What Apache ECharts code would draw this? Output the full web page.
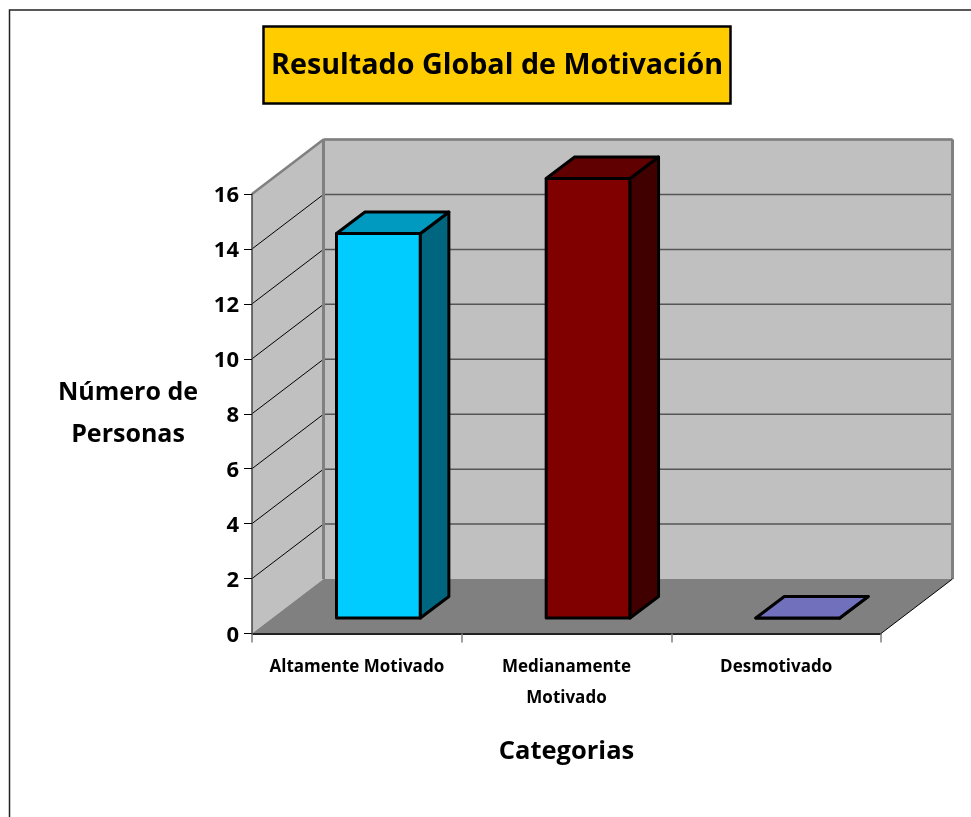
<!DOCTYPE html>
<html>
<head>
<meta charset="utf-8">
<style>
html, body { margin: 0; padding: 0; background: #fff; }
#chart { width: 971px; height: 817px; }
</style>
<script src="https://cdn.jsdelivr.net/npm/echarts@6/dist/echarts.min.js"></script>
</head>
<body>
<div id="chart"></div>
<script>
const categories = ['Altamente Motivado', 'Medianamente\nMotivado', 'Desmotivado'];
const values = [14, 16, 0];
const frontColors = ['#00ccff', '#800000', '#7777c4'];
const topColors = ['#0099bf', '#600000', '#7070bc'];
const sideColors = ['#006680', '#400000', '#3c3c62'];
const yTicks = { min: 0, max: 16, interval: 2 };

const FONT = '"Open Sans", "Noto Sans", sans-serif';

// Oblique projection of the box: how far the back plane sits from the front plane
const DEPTH_X = 71.5;
const DEPTH_Y = -54.5;
// Bars sit partway into the floor and have their own, shorter depth
const BAR_SHIFT_X = 21.6;
const BAR_SHIFT_Y = -15.5;
const BAR_DEPTH_X = 28.5;
const BAR_DEPTH_Y = -21.5;
const BAR_WIDTH_RATIO = 0.4;

function poly(points, fill, stroke, lineWidth) {
  return {
    type: 'polygon',
    shape: { points },
    style: { fill, stroke: stroke || 'none', lineWidth: lineWidth || 0, lineJoin: 'round' }
  };
}

function seg(x1, y1, x2, y2, stroke, lineWidth) {
  return {
    type: 'line',
    shape: { x1, y1, x2, y2 },
    style: { stroke, lineWidth }
  };
}

// Back wall, side wall, floor and the gridlines that run across them
function renderBox(params, api) {
  const band = api.size([1, 0])[0];
  const origin = api.coord([0, yTicks.min]);
  const left = origin[0] - band / 2;
  const right = api.coord([categories.length - 1, yTicks.min])[0] + band / 2;
  const bottom = origin[1];
  const top = api.coord([0, yTicks.max])[1];
  const children = [
    poly([[left, bottom], [left, top], [left + DEPTH_X, top + DEPTH_Y], [left + DEPTH_X, bottom + DEPTH_Y]], '#c0c0c0'),
    poly([[left + DEPTH_X, top + DEPTH_Y], [right + DEPTH_X, top + DEPTH_Y], [right + DEPTH_X, bottom + DEPTH_Y], [left + DEPTH_X, bottom + DEPTH_Y]], '#c0c0c0'),
    poly([[left, bottom], [right, bottom], [right + DEPTH_X, bottom + DEPTH_Y], [left + DEPTH_X, bottom + DEPTH_Y]], '#808080')
  ];
  for (let v = yTicks.min + yTicks.interval; v <= yTicks.max; v += yTicks.interval) {
    const y = api.coord([0, v])[1];
    if (v < yTicks.max) {
      children.push(seg(left, y, left + DEPTH_X, y + DEPTH_Y, '#000000', 1));
    }
    children.push(seg(left + DEPTH_X, y + DEPTH_Y, right + DEPTH_X, y + DEPTH_Y, '#555555', 1.5));
  }
  children.push(seg(left, top, left + DEPTH_X, top + DEPTH_Y, '#808080', 2.5));
  children.push(seg(left + DEPTH_X, top + DEPTH_Y, right + DEPTH_X, top + DEPTH_Y, '#808080', 2.5));
  children.push(seg(left + DEPTH_X, top + DEPTH_Y, left + DEPTH_X, bottom + DEPTH_Y, '#808080', 3));
  children.push(seg(right + DEPTH_X, top + DEPTH_Y, right + DEPTH_X, bottom + DEPTH_Y, '#808080', 3));
  children.push(seg(right, bottom, right + DEPTH_X, bottom + DEPTH_Y, '#000000', 1));
  return { type: 'group', children };
}

// One solid bar: front face, side face and lid
function renderBar(params, api) {
  const i = api.value(0);
  const base = api.coord([i, 0]);
  const head = api.coord([i, api.value(1)]);
  const w = api.size([1, 0])[0] * BAR_WIDTH_RATIO;
  const x0 = base[0] + BAR_SHIFT_X - w / 2;
  const x1 = x0 + w;
  const y0 = base[1] + BAR_SHIFT_Y;
  const y1 = head[1] + BAR_SHIFT_Y;
  const dx = BAR_DEPTH_X;
  const dy = BAR_DEPTH_Y;
  const stroke = '#000000';
  const lw = 3;
  return {
    type: 'group',
    children: [
      poly([[x0, y0], [x1, y0], [x1, y1], [x0, y1]], frontColors[i], stroke, lw),
      poly([[x1, y0], [x1 + dx, y0 + dy], [x1 + dx, y1 + dy], [x1, y1]], sideColors[i], stroke, lw),
      poly([[x0, y1], [x1, y1], [x1 + dx, y1 + dy], [x0 + dx, y1 + dy]], topColors[i], stroke, lw)
    ]
  };
}

const chart = echarts.init(document.getElementById('chart'), null, { renderer: 'canvas' });
chart.setOption({
  animation: false,
  backgroundColor: '#ffffff',
  title: [
    {
      text: 'Resultado Global de Motivación',
      left: 263,
      top: 26,
      padding: [21, 8, 19, 8],
      backgroundColor: '#ffcc00',
      borderColor: '#000000',
      borderWidth: 2.5,
      textStyle: { fontFamily: FONT, fontWeight: 700, fontSize: 28.7, color: '#000000', lineHeight: 38 }
    },
    {
      text: 'Número de\nPersonas',
      left: 128,
      top: 372,
      padding: 0,
      textAlign: 'center',
      textStyle: { fontFamily: FONT, fontWeight: 700, fontSize: 25, color: '#000000', lineHeight: 42 }
    }
  ],
  grid: { left: 252, right: 90, top: 194, bottom: 183.5 },
  xAxis: {
    type: 'category',
    data: categories,
    z: 5,
    axisLine: { lineStyle: { color: '#222222', width: 2 } },
    axisTick: { show: true, alignWithLabel: false, length: 9, lineStyle: { color: '#808080', width: 1.5 } },
    axisLabel: {
      margin: 18,
      fontFamily: FONT,
      fontWeight: 700,
      fontSize: 17,
      lineHeight: 31,
      color: '#000000',
      interval: 0
    },
    name: 'Categorias',
    nameLocation: 'middle',
    nameGap: 105,
    nameTextStyle: { fontFamily: FONT, fontWeight: 700, fontSize: 25.5, color: '#000000' }
  },
  yAxis: {
    type: 'value',
    min: yTicks.min,
    max: yTicks.max,
    interval: yTicks.interval,
    z: 5,
    splitLine: { show: false },
    axisLine: { show: true, lineStyle: { color: '#444444', width: 1.5 } },
    axisTick: { show: true, length: 8, lineStyle: { color: '#000000', width: 1 } },
    axisLabel: {
      margin: 13,
      formatter: (v) => '{t|' + v + '}',
      rich: {
        t: {
          fontFamily: FONT,
          fontWeight: 700,
          fontSize: 22,
          color: '#000000',
          padding: [4, 0, 0, 0]
        }
      }
    }
  },
  graphic: [{
    type: 'rect',
    silent: true,
    shape: { x: 9.5, y: 10, width: 1000, height: 900 },
    style: { fill: 'none', stroke: '#222222', lineWidth: 1.5 }
  }],
  series: [
    {
      type: 'custom',
      coordinateSystem: 'cartesian2d',
      silent: true,
      clip: false,
      z: 1,
      data: [[0, yTicks.min]],
      encode: { x: 0, y: 1 },
      renderItem: renderBox
    },
    {
      type: 'custom',
      coordinateSystem: 'cartesian2d',
      silent: true,
      clip: false,
      z: 6,
      data: values.map((v, i) => [i, v]),
      encode: { x: 0, y: 1 },
      renderItem: renderBar
    }
  ]
});
</script>
</body>
</html>
